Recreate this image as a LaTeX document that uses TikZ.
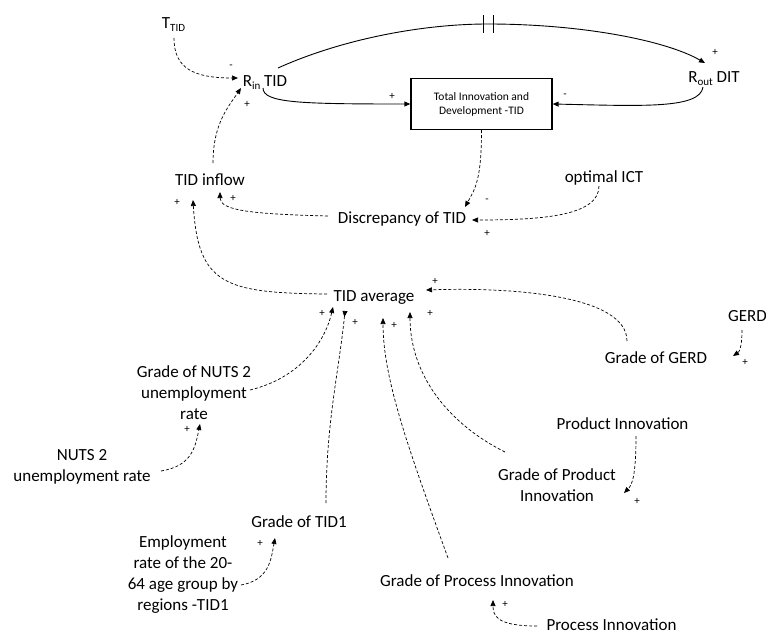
\documentclass[tikz,border=0pt]{standalone}
\usepackage{fontspec}
\setmainfont{Carlito}
\usetikzlibrary{arrows.meta,calc}

\tikzset{
  lbl/.style={font=\fontsize{17}{21}\selectfont, inner sep=0pt, anchor=base},
  mlbl/.style={font=\fontsize{17}{21}\selectfont, inner sep=0pt, align=center},
  sgn/.style={font=\fontsize{11}{11}\selectfont, inner sep=0pt},
  tipshape/.style={-{Triangle[length=6pt,width=5pt]}},
  link/.style={dash pattern=on 3pt off 2pt, line width=0.7pt, tipshape},
  flow/.style={line width=0.9pt, tipshape},
  stockbox/.style={draw, line width=1.3pt, minimum width=141pt, minimum height=51pt,
    align=center, inner sep=0pt, font=\fontsize{11.5}{14}\selectfont}
}
\newcommand{\subtxt}[1]{\raisebox{-3pt}{\fontsize{11}{11}\selectfont #1}}

\begin{document}
\begin{tikzpicture}[x=1pt, y=-1pt]
\useasboundingbox (0,0) rectangle (766,634);

% stock
\node[stockbox] (tid) at (481.5,104) {Total Innovation and\\Development -TID};

% rates and auxiliaries
\node[lbl] (ttid)   at (173.5,29) {T\subtxt{TID}};
\node[lbl] (rin)    at (265,86)   {R\subtxt{in} TID};
\node[lbl] (rout)   at (714,82)   {R\subtxt{out} DIT};
\node[lbl] (inflow) at (210,185)  {TID inflow};
\node[lbl] (disc)   at (402,223)  {Discrepancy of TID};
\node[lbl] (opt)    at (604,182)  {optimal ICT};
\node[lbl] (avg)    at (374,301)  {TID average};
\node[lbl] (gerd)   at (747.5,321) {GERD};
\node[lbl] (ggerd)  at (656,363)  {Grade of GERD};
\node[lbl] (prod)   at (622.5,429) {Product Innovation};
\node[lbl] (gproc)  at (477,586)  {Grade of Process Innovation};
\node[lbl] (proc)   at (611.5,630) {Process Innovation};
\node[lbl] (gtid1)  at (299,527)  {Grade of TID1};
\node[mlbl] (gnuts) at (194,393)  {Grade of NUTS 2\\unemployment\\rate};
\node[mlbl] (nuts)  at (82,467)   {NUTS 2\\unemployment rate};
\node[mlbl] (emp)   at (183,575)  {Employment\\rate of the 20-\\64 age group by\\regions -TID1};
\node[mlbl] (gprod) at (557,485)  {Grade of Product\\Innovation};

% flows into and out of the stock
\draw[flow] ($(rin.base)+(-2,2)$) .. controls +(0,15) and +(-110,0) .. (tid.west);
\draw[flow] ($(rout.base)+(-11,5)$) .. controls +(-3,22) and +(90,2) .. (tid.east);

% delayed link from inflow rate to outflow rate
\coordinate (delay) at (488,24);
\draw[line width=0.9pt] ($(rin.base)+(13,-18)$) .. controls +(62,-28) and +(-68,0) .. (delay);
\draw[flow] (delay) .. controls +(92,0) and +(-40,-23) .. ($(rout.base)+(-9,-19)$);
\draw[line width=0.9pt] (483,15) -- (483,33);
\draw[line width=0.9pt] (493,15) -- (493,33);

% information links
\draw[link] ($(ttid.base)+(0.5,9)$) .. controls +(0,30) and +(-45,0) .. ($(rin.base)+(-27,-8)$);
\draw[link] ($(inflow.base)+(3,-22)$) .. controls +(0,-40) and +(-12,18) .. ($(rin.base)+(-24,2)$);
\draw[link] (tid.south) .. controls +(0,50) and +(10,-18) .. ($(disc.base)+(63,-16)$);
\draw[link] ($(opt.base)+(-5,4)$) .. controls +(0,30) and +(70,0) .. ($(disc.base)+(70,-3)$);
\draw[link] ($(disc.base)+(-74,-7)$) .. controls +(-80,-2) and +(0,18) .. ($(inflow.base)+(10,7)$);
\draw[link] ($(avg.base)+(-47,-7)$) .. controls +(-102,-1) and +(5,85) .. ($(inflow.base)+(-17,15)$);
\draw[link] ($(gnuts.center)+(56,-3)$) .. controls +(50,-12) and +(-8,35) .. ($(avg.base)+(-41,6)$);
\draw[link] ($(nuts.center)+(79,4)$) .. controls +(30,-5) and +(-5,25) .. ($(gnuts.center)+(6,31)$);
\draw[link, -{Triangle[length=6pt,width=5pt,reversed]}] ($(gtid1.base)+(27,-24)$) .. controls +(0,-80) and +(-6,60) .. ($(avg.base)+(-29,10)$);
\draw[link] ($(emp.center)+(58,10)$) .. controls +(28,-5) and +(-4,22) .. ($(gtid1.base)+(-24,11)$);
\draw[link] ($(gproc.base)+(-29,-28)$) .. controls +(-40,-110) and +(0,60) .. ($(avg.base)+(9,17)$);
\draw[link] ($(gprod.center)+(-52,-33)$) .. controls +(-60,-30) and +(0,60) .. ($(avg.base)+(36,11)$);
\draw[link] ($(prod.base)+(13.5,7)$) .. controls +(0,40) and +(8,-8) .. ($(gprod.center)+(67,8)$);
\draw[link] ($(proc.base)+(-74.5,-4)$) .. controls +(-40,0) and +(0,16) .. ($(gproc.base)+(16,14)$);
\draw[link] ($(ggerd.base)+(-29,-22)$) .. controls +(0,-45) and +(90,-3) .. ($(avg.base)+(52,-11)$);
\draw[link] ($(gerd.base)+(-5.5,9)$) .. controls +(0,18) and +(6,-4) .. ($(ggerd.base)+(77,-7)$);

% link polarities
\node[sgn] (s1)  at (231,67)  {-};
\node[sgn] (s2)  at (247,104) {+};
\node[sgn] (s3)  at (392,96)  {+};
\node[sgn] (s4)  at (565,96)  {-};
\node[sgn] (s5)  at (715,52)  {+};
\node[sgn] (s6)  at (487,201) {-};
\node[sgn] (s7)  at (487,233) {+};
\node[sgn] (s8)  at (233,198) {+};
\node[sgn] (s9)  at (177,202) {+};
\node[sgn] (s10) at (435,281) {+};
\node[sgn] (s11) at (322,313) {+};
\node[sgn] (s12) at (355,322) {+};
\node[sgn] (s13) at (394,325) {+};
\node[sgn] (s14) at (430,313) {+};
\node[sgn] (s15) at (187,429) {+};
\node[sgn] (s16) at (260,543) {+};
\node[sgn] (s17) at (637,501) {+};
\node[sgn] (s18) at (505,604) {+};
\node[sgn] (s19) at (745,362) {+};
\end{tikzpicture}
\end{document}
